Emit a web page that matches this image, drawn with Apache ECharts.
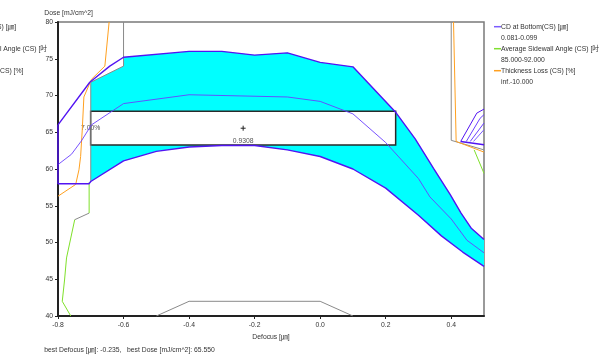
<!DOCTYPE html>
<html>
<head>
<meta charset="utf-8">
<script src="https://cdn.jsdelivr.net/npm/echarts@6/dist/echarts.min.js"></script>
<style>
  html, body { margin: 0; padding: 0; background: #ffffff; }
  #chart { width: 600px; height: 356px; }
</style>
</head>
<body>
<div id="chart"></div>
<script>
// ---- Axis ticks ----
const xTicks = [-0.8, -0.6, -0.4, -0.2, 0.0, 0.2, 0.4];
const yTicks = [40, 45, 50, 55, 60, 65, 70, 75, 80];

// ---- Process window result ----
const bestDefocus = -0.235;
const bestDose = 65.55;
const dof = 0.9308;          // depth of focus [um]
const exposureLatitude = 0.07; // 7.00 %

// ---- CD at Bottom contours (defocus, dose) ----
const cdUpper = [[-0.8, 66.0], [-0.703, 71.8], [-0.642, 74.0], [-0.6, 75.2], [-0.4, 76.0], [-0.3, 76.0],
  [-0.2, 75.5], [-0.1, 75.8], [0.0, 74.5], [0.1, 73.9], [0.229, 67.8], [0.29, 64.1], [0.346, 60.1],
  [0.397, 56.5], [0.43, 54.0], [0.462, 51.9], [0.5, 50.4]];
const cdLower = [[-0.8, 66.0], [-0.8, 58.0], [-0.705, 58.0], [-0.7, 58.3], [-0.6, 61.1], [-0.5, 62.4],
  [-0.4, 63.0], [-0.3, 63.2], [-0.2, 63.2], [-0.1, 62.6], [0.0, 61.7], [0.1, 60.0], [0.2, 57.4],
  [0.3, 53.7], [0.37, 50.9], [0.435, 48.7], [0.5, 46.75]];
const cdTarget = [[-0.8, 60.6], [-0.759, 62.0], [-0.729, 63.8], [-0.698, 66.0], [-0.6, 68.9], [-0.4, 70.1],
  [-0.1, 69.8], [0.0, 69.2], [0.1, 67.5], [0.2, 63.6], [0.3, 58.7], [0.335, 56.2], [0.4, 53.2],
  [0.448, 50.3], [0.5, 48.6]];
const cdCornerA = [[0.429, 63.75], [0.478, 67.6], [0.5, 68.15]];
const cdCornerB = [[0.446, 63.75], [0.488, 66.9], [0.5, 67.4]];
const cdCornerC = [[0.458, 63.75], [0.5, 66.26]];
const cdCornerD = [[0.468, 63.75], [0.5, 65.35]];
const cdCornerE = [[0.429, 63.75], [0.5, 63.3]];

// ---- Thickness loss contours ----
const tlLeft = [[-0.8, 56.3], [-0.746, 57.9], [-0.736, 59.9], [-0.731, 61.7], [-0.726, 65.3],
  [-0.721, 69.8], [-0.698, 72.2], [-0.657, 74.0], [-0.644, 80.0]];
const tlRight = [[0.407, 80.0], [0.415, 63.75], [0.5, 62.3]];

// ---- Sidewall angle contours ----
const swaUpper = [[-0.705, 58.2], [-0.705, 54.0]];
const swaLower = [[-0.749, 53.1], [-0.774, 47.9], [-0.78, 44.9], [-0.787, 42.0], [-0.761, 40.0]];
const swaRight = [[0.47, 62.6], [0.5, 59.4]];

// ---- Window boundaries ----
const edgeLeft = [[-0.6, 80.0], [-0.6, 74.0], [-0.7, 71.8], [-0.7, 58.3]];
const edgeSwa = [[-0.705, 54.0], [-0.749, 53.1]];
const edgeBottom = [[-0.5, 40.0], [-0.4, 42.0], [0.0, 42.0], [0.1, 40.0]];
const edgeRight = [[0.4, 80.0], [0.4, 63.9], [0.5, 62.6]];

// ---- Legend entries ----
const legendItems = [
  { name: 'CD at Bottom(CS) [\u339b]', range: '0.081-0.099', color: '#7b5cff' },
  { name: 'Average Sidewall Angle (CS) [\u540b', range: '85.000-92.000', color: '#80e030' },
  { name: 'Thickness Loss (CS) [%]', range: 'inf.-10.000', color: '#ffa020' }
];

const FONT = '"Liberation Sans", Arial, "Noto Sans CJK JP", sans-serif';
const FS = 6.8;
const TXT = '#333333';
const CD_COLOR = '#5214f2';
const TL_COLOR = '#ffa020';
const SWA_COLOR = '#7fe02a';
const EDGE_COLOR = '#8a8a8a';

// Feasible region: left edge, upper CD limit, lower CD limit back
const windowArea = [
  ...edgeLeft.slice(1).reverse().slice(0, 3),
  ...cdUpper.filter(p => p[0] >= -0.6),
  ...cdLower.filter(p => p[0] >= -0.7).reverse()
];

function lineSeries(data, color, width, z) {
  return {
    type: 'line', data: data, symbol: 'none', silent: true, z: z || 3,
    lineStyle: { color: color, width: width },
    animation: false
  };
}

function legendGraphics(x0) {
  const out = [];
  legendItems.forEach((it, i) => {
    const y = 26.7 + i * 22;
    out.push({ type: 'line', shape: { x1: x0, y1: y, x2: x0 + 7, y2: y },
      style: { stroke: it.color, lineWidth: 1.5 } });
    out.push({ type: 'text', x: x0 + 7, y: y,
      style: { text: it.name, fill: TXT, font: FS + 'px ' + FONT, textVerticalAlign: 'middle' } });
    out.push({ type: 'text', x: x0 + 7, y: y + 11,
      style: { text: it.range, fill: TXT, font: FS + 'px ' + FONT, textVerticalAlign: 'middle' } });
  });
  return out;
}

const chart = echarts.init(document.getElementById('chart'), null, { renderer: 'canvas' });

const option = {
  animation: false,
  backgroundColor: '#ffffff',
  textStyle: { fontFamily: FONT },
  grid: { left: 58, right: 116, top: 22, bottom: 40, show: true, borderColor: '#7a7a7a', borderWidth: 1.5, backgroundColor: 'transparent' },
  xAxis: {
    type: 'value', min: -0.8, max: 0.5, interval: 0.2,
    name: 'Defocus [\u339b]', nameLocation: 'middle', nameGap: 17,
    nameTextStyle: { fontSize: FS, color: TXT, fontFamily: FONT },
    axisLine: { onZero: false, lineStyle: { color: '#222222', width: 2 } },
    axisTick: { customValues: xTicks, length: 3, lineStyle: { color: '#222222' } },
    axisLabel: { customValues: xTicks, fontSize: FS, color: TXT, margin: 6, fontFamily: FONT,
      formatter: v => v.toFixed(1) },
    splitLine: { show: false }
  },
  yAxis: {
    type: 'value', min: 40, max: 80, interval: 5,
    axisLine: { onZero: false, lineStyle: { color: '#222222', width: 2 } },
    axisTick: { customValues: yTicks, length: 3, lineStyle: { color: '#222222' } },
    axisLabel: { customValues: yTicks, fontSize: FS, color: TXT, margin: 5, fontFamily: FONT },
    splitLine: { show: false }
  },
  graphic: [
    { type: 'text', x: 44.3, y: 13.3, style: { text: 'Dose [mJ/cm^2]', fill: TXT, font: FS + 'px ' + FONT, textVerticalAlign: 'middle' } },
    { type: 'text', x: 44.3, y: 350, style: {
        text: 'best Defocus [\u339b]: ' + bestDefocus.toFixed(3) + ',   best Dose [mJ/cm^2]: ' + bestDose.toFixed(3),
        fill: TXT, font: FS + 'px ' + FONT, textVerticalAlign: 'middle' } },
    ...legendGraphics(494),
    ...legendGraphics(-58)
  ],
  series: [
    {
      type: 'custom', silent: true, z: 1, data: [windowArea[0]],
      renderItem: (params, api) => ({
        type: 'polygon',
        shape: { points: windowArea.map(p => api.coord(p)) },
        style: { fill: '#00ffff', stroke: null }
      })
    },
    {
      type: 'custom', silent: true, z: 2, data: [[bestDefocus, bestDose]],
      renderItem: (params, api) => {
        const x0 = bestDefocus - dof / 2, x1 = bestDefocus + dof / 2;
        const y0 = bestDose * (1 - exposureLatitude / 2), y1 = bestDose * (1 + exposureLatitude / 2);
        const tl = api.coord([x0, y1]);
        const br = api.coord([x1, y0]);
        const c = api.coord([bestDefocus, bestDose]);
        const lm = api.coord([x0, bestDose]);
        return {
          type: 'group',
          children: [
            { type: 'rect', shape: { x: tl[0], y: tl[1], width: br[0] - tl[0], height: br[1] - tl[1] },
              style: { fill: '#ffffff', stroke: '#2a2a2a', lineWidth: 1.5 } },
            { type: 'line', shape: { x1: c[0] - 2.5, y1: c[1], x2: c[0] + 2.5, y2: c[1] }, style: { stroke: '#222', lineWidth: 1 } },
            { type: 'line', shape: { x1: c[0], y1: c[1] - 2.5, x2: c[0], y2: c[1] + 2.5 }, style: { stroke: '#222', lineWidth: 1 } },
            { type: 'text', x: c[0], y: c[1] + 13, style: { text: dof.toFixed(4), fill: '#555', font: FS + 'px ' + FONT, textAlign: 'center', textVerticalAlign: 'middle' } },
            { type: 'text', x: lm[0], y: lm[1], style: { text: (exposureLatitude * 100).toFixed(2) + '%', fill: '#555', font: FS + 'px ' + FONT, textAlign: 'center', textVerticalAlign: 'middle' } }
          ]
        };
      }
    },
    lineSeries(edgeLeft, EDGE_COLOR, 1),
    lineSeries(edgeSwa, EDGE_COLOR, 1),
    lineSeries(edgeBottom, EDGE_COLOR, 1),
    lineSeries(edgeRight, EDGE_COLOR, 1),
    lineSeries(tlLeft, TL_COLOR, 1),
    lineSeries(tlRight, TL_COLOR, 1),
    lineSeries(swaUpper, SWA_COLOR, 1),
    lineSeries(swaLower, SWA_COLOR, 1),
    lineSeries(swaRight, SWA_COLOR, 1),
    lineSeries(cdTarget, '#6a40ff', 0.9, 4),
    lineSeries(cdUpper, CD_COLOR, 1.4, 5),
    lineSeries(cdLower, CD_COLOR, 1.4, 5),
    lineSeries(cdCornerA, CD_COLOR, 1, 4),
    lineSeries(cdCornerB, '#6a40ff', 1, 4),
    lineSeries(cdCornerC, '#6a40ff', 1, 4),
    lineSeries(cdCornerD, '#7b5cff', 1, 4),
    lineSeries(cdCornerE, CD_COLOR, 1.4, 4)
  ]
};

chart.setOption(option);
</script>
</body>
</html>
